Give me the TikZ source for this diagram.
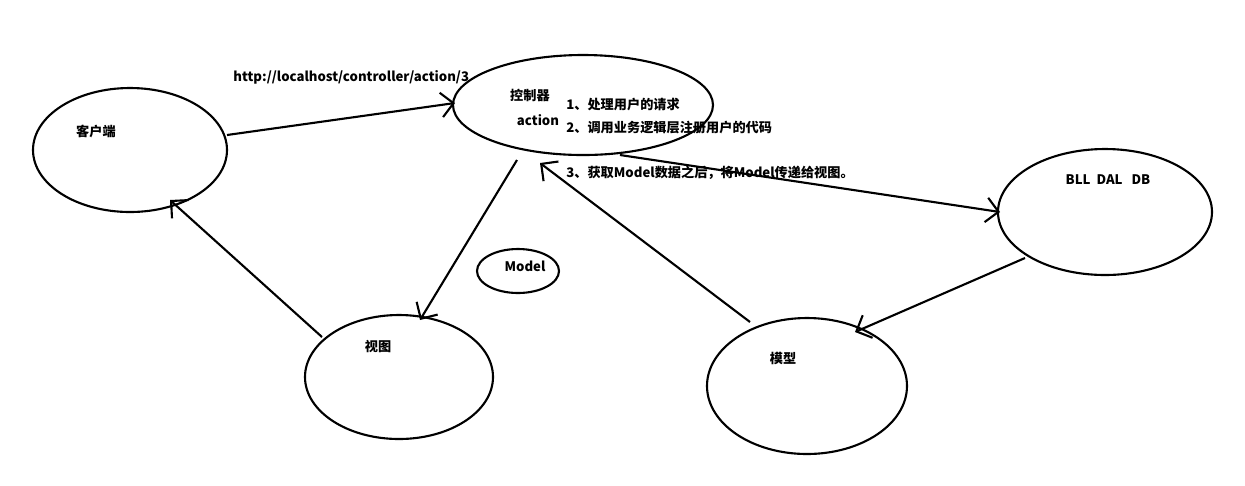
\documentclass[tikz,border=0pt]{standalone}
\usepackage{fontspec}
\setmainfont{Liberation Sans}
\newfontfamily\cjk{Noto Sans CJK SC}
\usetikzlibrary{arrows.meta}
\begin{document}
\begin{tikzpicture}[x=0.02cm,y=-0.02cm,
  ell/.style={draw,line width=1.2pt},
  conn/.style={line width=1.2pt,-{Straight Barb[length=7pt,width=14pt,line width=1.2pt]}},
  lbl/.style={font=\cjk\bfseries\fontsize{7.5}{9}\selectfont,inner sep=0pt},
  lbll/.style={lbl,anchor=west}]
\useasboundingbox[fill=white] (0,0) rectangle (1245,485);
\draw[ell] (130,150) ellipse [x radius=97,y radius=62];
\draw[ell] (583,105) ellipse [x radius=130,y radius=50];
\draw[ell] (1105,212) ellipse [x radius=107,y radius=63];
\draw[ell] (518,271) ellipse [x radius=41,y radius=22];
\draw[ell] (399,377) ellipse [x radius=94,y radius=62];
\draw[ell] (807,386) ellipse [x radius=100,y radius=68];
\coordinate (c1) at (227,135); \coordinate (k1) at (455,103);
\coordinate (k2) at (517,160); \coordinate (v1) at (420,320);
\coordinate (v2) at (322,337); \coordinate (c2) at (170,200);
\coordinate (m1) at (750,322); \coordinate (k3) at (540,163);
\coordinate (k4) at (620,155); \coordinate (b1) at (1000,212);
\coordinate (b2) at (1025,258); \coordinate (m2) at (855,332);
\draw[conn] (c1) -- (k1);
\draw[conn] (k2) -- (v1);
\draw[conn] (v2) -- (c2);
\draw[conn] (m1) -- (k3);
\draw[conn] (k4) -- (b1);
\draw[conn] (b2) -- (m2);
\node[lbll] (url) at (233,77) {http://localhost/controller/action/3};
\node[lbl] (t1) at (530,95) {控制器};
\node[lbl] (t2) at (538,120) {action};
\node[lbll] (s1) at (566,104) {1、处理用户的请求};
\node[lbll] (s2) at (566,128) {2、调用业务逻辑层注册用户的代码};
\node[lbll] (s3) at (566,173) {3、获取Model数据之后，将Model传递给视图。};
\node[lbl] (b) at (1108,180) {BLL\ \ DAL\ \ \ DB};
\node[lbl] (md) at (525,266) {Model};
\node[lbl] (c) at (96,131) {客户端};
\node[lbl] (v) at (378,347) {视图};
\node[lbl] (m) at (783,358) {模型};
\end{tikzpicture}
\end{document}
